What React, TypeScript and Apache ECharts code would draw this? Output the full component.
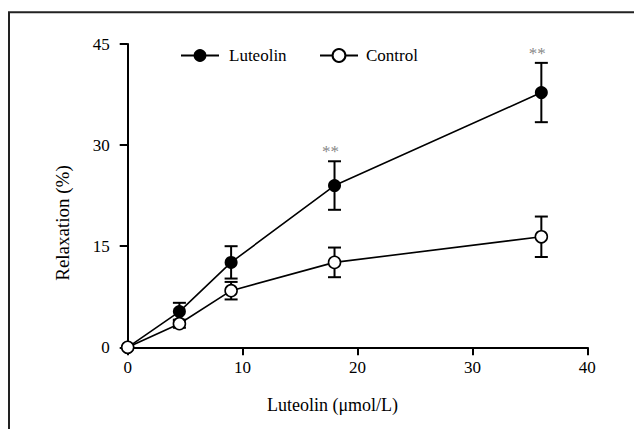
import React, { useEffect, useRef } from "react";
import * as echarts from "echarts";

const doses = [0, 4.5, 9, 18, 36];
const luteolin = [0, 5.3, 12.6, 24.0, 37.8];
const luteolinSE = [0, 1.3, 2.4, 3.6, 4.4];
const control = [0, 3.5, 8.4, 12.6, 16.4];
const controlSE = [0, 0.6, 1.3, 2.2, 3.0];
const significance = ["", "", "", "**", "**"];
const xTicks = { min: 0, max: 40, interval: 10 };
const yTicks = { min: 0, max: 45, interval: 15 };

const FONT = "serif";

export default function App() {
  const ref = useRef<HTMLDivElement>(null);
  useEffect(() => {
    if (!ref.current) return;
    const chart = echarts.init(ref.current, undefined, { renderer: "svg" });

    const errData = (vals: number[], se: number[]) =>
      doses.map((d, i) => [d, vals[i], se[i]]).filter((r) => r[2] > 0);

    const renderErr = (params: any, api: any) => {
      const x = api.value(0);
      const y = api.value(1);
      const e = api.value(2);
      const top = api.coord([x, y + e]);
      const bot = api.coord([x, y - e]);
      const hw = 6.5;
      const st = { stroke: "#000", lineWidth: 2 };
      return {
        type: "group",
        children: [
          { type: "line", shape: { x1: top[0], y1: top[1], x2: bot[0], y2: bot[1] }, style: st },
          { type: "line", shape: { x1: top[0] - hw, y1: top[1], x2: top[0] + hw, y2: top[1] }, style: st },
          { type: "line", shape: { x1: bot[0] - hw, y1: bot[1], x2: bot[0] + hw, y2: bot[1] }, style: st },
        ],
      };
    };

    const starData = doses
      .map((d, i) => ({ d, i }))
      .filter(({ i }) => significance[i] !== "")
      .map(({ d, i }) => ({
        value: [d, luteolin[i] + luteolinSE[i]],
        label: { formatter: significance[i] },
      }));

    chart.setOption({
      animation: false,
      textStyle: { fontFamily: FONT },
      grid: { left: 127.7, top: 44, width: 459.6, height: 303.3, containLabel: false },
      legend: [
        {
          data: ["Luteolin"],
          left: 175,
          top: 42,
          itemWidth: 38,
          itemHeight: 16,
          textStyle: { fontFamily: FONT, fontSize: 17, color: "#000", padding: [0, 0, 0, 5] },
        },
        {
          data: ["Control"],
          left: 314,
          top: 42,
          itemWidth: 38,
          itemHeight: 16,
          textStyle: { fontFamily: FONT, fontSize: 17, color: "#000", padding: [0, 0, 0, 3] },
        },
      ],
      xAxis: {
        type: "value",
        min: xTicks.min,
        max: xTicks.max,
        interval: xTicks.interval,
        splitLine: { show: false },
        axisLine: { lineStyle: { color: "#000", width: 2 } },
        axisTick: { length: 8, lineStyle: { color: "#000", width: 2 } },
        axisLabel: { margin: 12, fontFamily: FONT, fontSize: 17, color: "#000" },
      },
      yAxis: {
        type: "value",
        min: yTicks.min,
        max: yTicks.max,
        interval: yTicks.interval,
        splitLine: { show: false },
        axisLine: { show: true, lineStyle: { color: "#000", width: 2 } },
        axisTick: { show: true, length: 8, lineStyle: { color: "#000", width: 2 } },
        axisLabel: { margin: 18, fontFamily: FONT, fontSize: 17, color: "#000" },
      },
      graphic: [
        {
          type: "rect",
          shape: { x: 9, y: 12.3, width: 700, height: 500 },
          style: { fill: "none", stroke: "#222", lineWidth: 2 },
          silent: true,
        },
        {
          type: "text",
          x: 62,
          y: 223,
          rotation: Math.PI / 2,
          style: {
            text: "Relaxation (%)",
            fontFamily: FONT,
            fontSize: 19,
            fill: "#000",
            align: "center",
            verticalAlign: "middle",
          },
        },
        {
          type: "text",
          x: 332.5,
          y: 405,
          style: {
            text: "Luteolin (μmol/L)",
            fontFamily: FONT,
            fontSize: 18,
            fill: "#000",
            align: "center",
            verticalAlign: "middle",
          },
        },
      ],
      series: [
        {
          type: "custom",
          name: "LuteolinErr",
          renderItem: renderErr,
          data: errData(luteolin, luteolinSE),
          encode: { x: 0, y: 1 },
          z: 1,
          silent: true,
        },
        {
          type: "custom",
          name: "ControlErr",
          renderItem: renderErr,
          data: errData(control, controlSE),
          encode: { x: 0, y: 1 },
          z: 1,
          silent: true,
        },
        {
          type: "line",
          name: "Luteolin",
          data: doses.map((d, i) => [d, luteolin[i]]),
          symbol: "circle",
          symbolSize: 13,
          itemStyle: { color: "#000", borderColor: "#000", borderWidth: 0 },
          lineStyle: { color: "#000", width: 1.6 },
          z: 3,
        },
        {
          type: "line",
          name: "Control",
          data: doses.map((d, i) => [d, control[i]]),
          symbol: "circle",
          symbolSize: 12,
          itemStyle: { color: "#fff", borderColor: "#000", borderWidth: 1.6 },
          lineStyle: { color: "#000", width: 1.6 },
          z: 4,
        },
        {
          type: "scatter",
          name: "sig",
          data: starData,
          symbolSize: 0,
          silent: true,
          label: {
            show: true,
            position: "top",
            distance: 1,
            offset: [-4, 0],
            fontFamily: FONT,
            fontSize: 17,
            color: "#666",
          },
          z: 5,
        },
      ],
    });
    return () => chart.dispose();
  }, []);
  return (
    <div
      ref={ref}
      style={{ position: "fixed", left: 0, top: 0, width: 634, height: 429, background: "#fff" }}
    />
  );
}
